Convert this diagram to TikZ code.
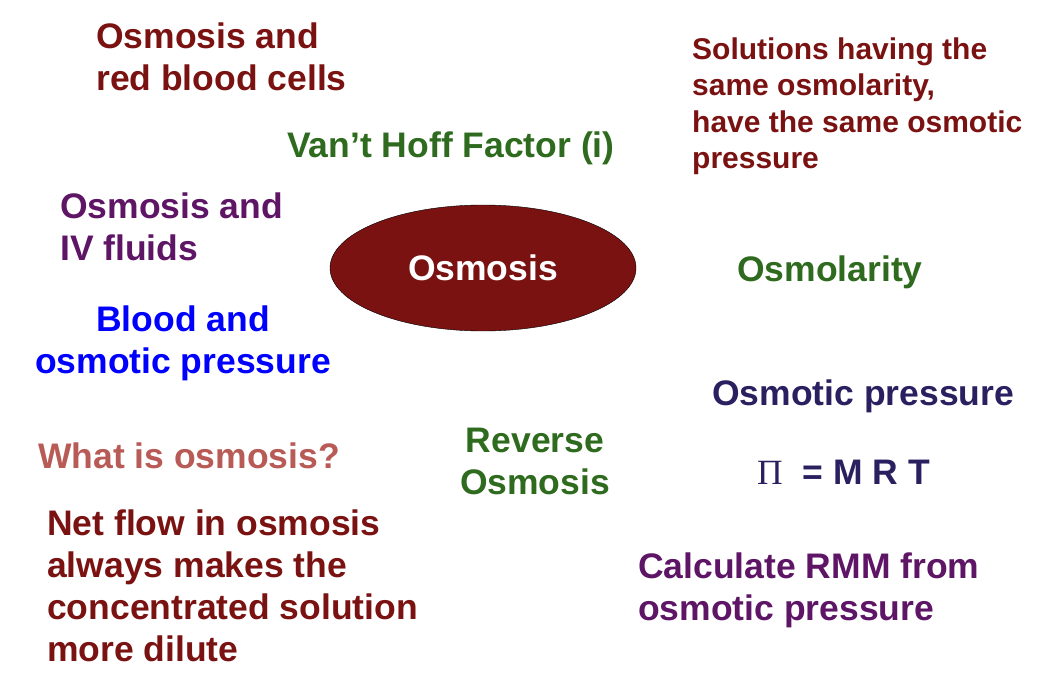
\documentclass[tikz,border=0pt]{standalone}
\usepackage{fontspec}
\setmainfont{Liberation Sans}
\usetikzlibrary{shapes.geometric}
\definecolor{darkred}{HTML}{7B1212}
\definecolor{leafgreen}{HTML}{2E6B1E}
\definecolor{plum}{HTML}{5E1566}
\definecolor{navy}{HTML}{2A2060}
\definecolor{rose}{HTML}{B85A55}
\tikzset{
  topic/.style={anchor=west, align=left, inner sep=0pt, font=\bfseries\fontsize{35.5}{42}\selectfont},
  small/.style={topic, font=\bfseries\fontsize{30}{36.5}\selectfont}
}
\begin{document}
\begin{tikzpicture}[x=1pt, y=-1pt]
	\useasboundingbox (0,0) rectangle (1058,682);
	% centre
	\node [ellipse, draw=black, fill=darkred, minimum width=306pt, minimum height=126pt, text=white, font=\bfseries\fontsize{35.5}{40}\selectfont] (osm) at (483,268) {Osmosis};
	% topics round it
	\node [topic, darkred] (rbc) at (96,57) {Osmosis and\\red blood cells};
	\node [small, darkred] (same) at (692,106) {Solutions having the\\same osmolarity,\\have the same osmotic\\pressure};
	\node [topic, leafgreen] (vant) at (287,148) {Van’t Hoff Factor (i)};
	\node [topic, plum] (iv) at (60,227) {Osmosis and\\IV fluids};
	\node [topic, leafgreen] (olar) at (737,272) {Osmolarity};
	\node [topic, blue, anchor=center, align=center] (blood) at (183,343) {Blood and\\osmotic pressure};
	\node [topic, navy] (press) at (712,396) {Osmotic pressure};
	\node [topic, rose] (what) at (38,456) {What is osmosis?};
	\node [topic, leafgreen, anchor=center, align=center] (rev) at (535,461) {Reverse\\Osmosis};
	\node [topic, navy] (eq) at (757,472) {{\mdseries\fontspec{Liberation Serif}Π}\ \ = M R T};
	\node [topic, darkred] (net) at (47,586) {Net flow in osmosis\\always makes the\\concentrated solution\\more dilute};
	\node [topic, plum] (rmm) at (638,590) {Calculate RMM from\\osmotic pressure};
\end{tikzpicture}
\end{document}
